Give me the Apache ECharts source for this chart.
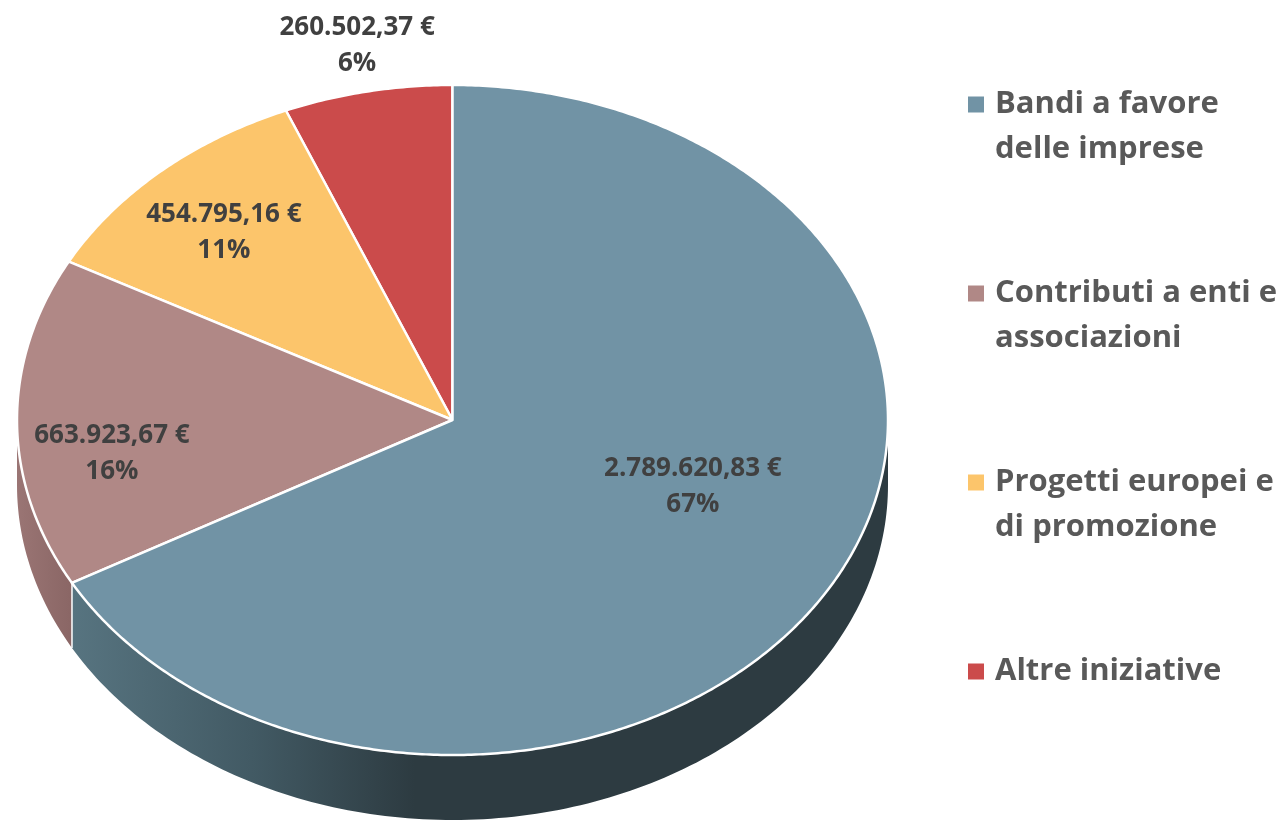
<!DOCTYPE html>
<html>
  <head>
    <title>Ripartizione contributi</title>
    <style type="text/css">
      html,
      body {
        width: 100%;
        height: 100%;
        margin: 0px;
        background: #fff;
      }

      #chart {
        width: 1280px;
        height: 820px;
      }
    </style>
    <script type="text/javascript" src="https://fastly.jsdelivr.net/npm/echarts@6/dist/echarts.min.js"></script>
  </head>

  <body>
    <div id="chart"></div>
    <script>
      const categories = [
        "Bandi a favore\ndelle imprese",
        "Contributi a enti e\nassociazioni",
        "Progetti europei e\ndi promozione",
        "Altre iniziative",
      ];
      const amounts = [2789620.83, 663923.67, 454795.16, 260502.37];
      const amountLabels = ["2.789.620,83 €", "663.923,67 €", "454.795,16 €", "260.502,37 €"];
      const percentLabels = ["67%", "16%", "11%", "6%"];

      const topColors = ["#7193a5", "#b08886", "#fcc56b", "#cb4b4b"];
      // x, y of each label on the hidden axes (unit ellipse)
      const labelSpots = [[0.552, -0.2], [-0.782, -0.1], [-0.525, 0.56], [-0.219, 1.118]];
      const depth = 0.194; // height of the pie wall, in y axis units

      const total = amounts.reduce((a, b) => a + b, 0);
      const toRad = (d) => (d * Math.PI) / 180;

      // angles run clockwise from 12 o'clock
      function rimPoint(api, deg, drop) {
        return api.coord([Math.sin(toRad(deg)), Math.cos(toRad(deg)) - drop]);
      }

      function wallPoints(api, from, to) {
        const pts = [];
        for (let a = from; a <= to; a += 1) pts.push(rimPoint(api, a, 0));
        pts.push(rimPoint(api, to, 0));
        pts.push(rimPoint(api, to, depth));
        for (let a = to; a >= from; a -= 1) pts.push(rimPoint(api, a, depth));
        pts.push(rimPoint(api, from, depth));
        return pts;
      }

      function slicePoints(api, from, to) {
        const pts = [api.coord([0, 0])];
        for (let a = from; a < to; a += 0.5) pts.push(rimPoint(api, a, 0));
        pts.push(rimPoint(api, to, 0));
        return pts;
      }

      const wallFills = [
        new echarts.graphic.LinearGradient(0, 0, 1, 0, [
          { offset: 0, color: "#577480" },
          { offset: 0.22, color: "#425a64" },
          { offset: 0.42, color: "#2d3b41" },
          { offset: 1, color: "#2d3b41" },
        ]),
        new echarts.graphic.LinearGradient(0, 0, 1, 0, [
          { offset: 0, color: "#9a7574" },
          { offset: 1, color: "#8a6665" },
        ]),
      ];

      let running = 0;
      const series = categories.map((name, i) => {
        const from = (running / total) * 360;
        running += amounts[i];
        const to = (running / total) * 360;
        return {
          name: name,
          type: "custom",
          coordinateSystem: "cartesian2d",
          silent: true,
          itemStyle: { color: topColors[i] },
          z: 10 - i,
          data: [[0, 0]],
          renderItem: (params, api) => {
            const children = [];
            // only the part of the rim facing us has a visible wall
            const wallFrom = Math.max(from, 90);
            const wallTo = Math.min(to, 270);
            if (wallFrom < wallTo) {
              children.push({
                type: "polygon",
                shape: { points: wallPoints(api, wallFrom, wallTo) },
                style: { fill: wallFills[i], stroke: "#ffffff", lineWidth: 0 },
              });
              if (i === 0) {
                children.push({
                  type: "line",
                  shape: {
                    x1: rimPoint(api, to, 0)[0],
                    y1: rimPoint(api, to, 0)[1],
                    x2: rimPoint(api, to, depth)[0],
                    y2: rimPoint(api, to, depth)[1],
                  },
                  style: { stroke: "#ffffff", lineWidth: 1.5 },
                  z2: 2,
                });
              }
            }
            children.push({
              type: "polygon",
              shape: { points: slicePoints(api, from, to) },
              style: { fill: topColors[i], stroke: "#ffffff", lineWidth: 2.5, lineJoin: "round" },
              z2: 5,
            });
            return { type: "group", children: children };
          },
        };
      });

      // labels sit above every slice, in their own series
      series.push({
        type: "custom",
        coordinateSystem: "cartesian2d",
        silent: true,
        z: 20,
        data: labelSpots,
        renderItem: (params, api) => {
          const p = api.coord([api.value(0), api.value(1)]);
          const i = params.dataIndex;
          return {
            type: "text",
            x: p[0],
            y: p[1],
            style: {
              text: amountLabels[i] + "\n" + percentLabels[i],
              fill: "#404040",
              font: 'bold 26px "Open Sans", sans-serif',
              lineHeight: 36,
              align: "center",
              verticalAlign: "middle",
            },
          };
        },
      });

      const myChart = echarts.init(document.getElementById("chart"), null, { renderer: "canvas" });
      myChart.setOption({
        animation: false,
        grid: { left: 17, width: 871, top: 85, height: 670 },
        xAxis: { type: "value", min: -1, max: 1, show: false },
        yAxis: { type: "value", min: -1, max: 1, show: false },
        legend: {
          orient: "vertical",
          left: 963,
          top: 32,
          icon: "rect",
          itemWidth: 16,
          itemHeight: 16,
          itemGap: 54,
          selectedMode: false,
          data: categories,
          // blank lines keep the marker level with the first text row
          formatter: (name) => "\n" + name + (name.indexOf("\n") < 0 ? "\n" : ""),
          textStyle: {
            color: "#595959",
            fontFamily: '"Open Sans", sans-serif',
            fontWeight: "bold",
            fontSize: 31,
            lineHeight: 45,
            padding: [0, 0, 0, 6],
          },
        },
        series: series,
      });
    </script>
  </body>
</html>
